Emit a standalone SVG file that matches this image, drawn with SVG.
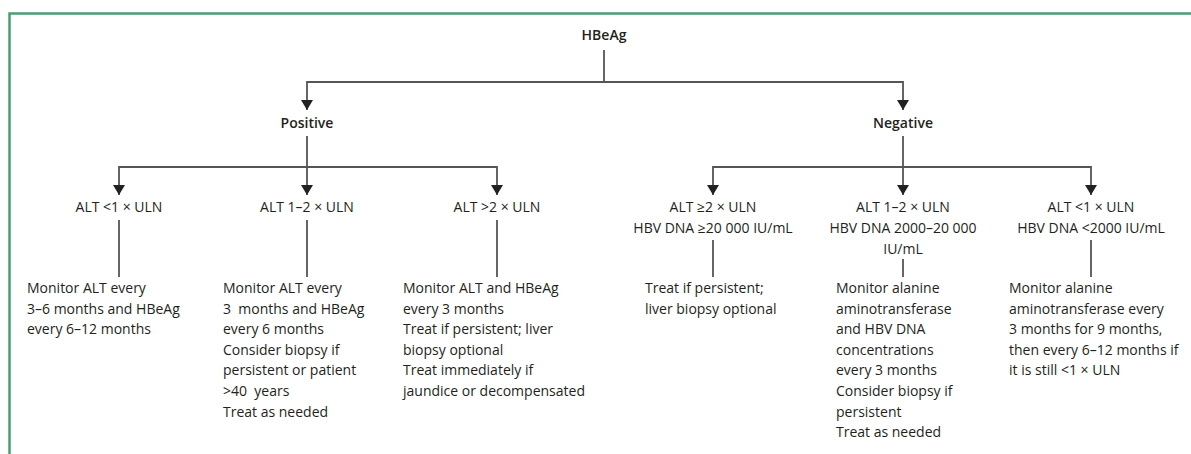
<svg xmlns="http://www.w3.org/2000/svg" width="1191" height="454" viewBox="0 0 1191 454">
<style>
text{font-family:"Open Sans","Liberation Sans",sans-serif;font-size:14px;fill:#231f20}
.h{font-weight:600;text-anchor:middle}
.c{text-anchor:middle}
.ln{fill:none;stroke:#555;stroke-width:1.8}
.ar{marker-end:url(#arr)}
</style>
<defs>
<marker id="arr" markerWidth="10" markerHeight="12" refX="10" refY="6" orient="auto" markerUnits="userSpaceOnUse">
<path d="M0,0 L10,6 L0,12 Z" fill="#222"/>
</marker>
</defs>
<rect width="1191" height="454" fill="#fff"/>
<path d="M9.5,454 V13.5 H1191" fill="none" stroke="#4a9d74" stroke-width="2.5"/>
<g id="connectors">
<path class="ln" d="M604,50 V82"/>
<path class="ln ar" d="M604,82 H307 V110"/>
<path class="ln ar" d="M604,82 H903 V110"/>
<path class="ln ar" d="M307,136 V195"/>
<path class="ln ar" d="M307,167 H119 V195"/>
<path class="ln ar" d="M307,167 H497 V195"/>
<path class="ln ar" d="M903,136 V195"/>
<path class="ln ar" d="M903,167 H713 V195"/>
<path class="ln ar" d="M903,167 H1091 V195"/>
<path class="ln" d="M119,220 V277"/>
<path class="ln" d="M307,220 V277"/>
<path class="ln" d="M497,220 V277"/>
<path class="ln" d="M713,240 V277"/>
<path class="ln" d="M903,259 V277"/>
<path class="ln" d="M1091,240 V277"/>
</g>
<g id="hbeag"><text class="h" x="604" y="40">HBeAg</text></g>
<g id="positive"><text class="h" x="307" y="128">Positive</text></g>
<g id="negative"><text class="h" x="903" y="128">Negative</text></g>
<g id="pos-alt-lt1"><text class="c" x="119" y="212">ALT &lt;1 × ULN</text></g>
<g id="pos-alt-1-2"><text class="c" x="307" y="212">ALT 1–2 × ULN</text></g>
<g id="pos-alt-gt2"><text class="c" x="497" y="212">ALT &gt;2 × ULN</text></g>
<g id="neg-alt-ge2"><text class="c" x="713" y="212">ALT ≥2 × ULN</text><text class="c" x="713" y="233">HBV DNA ≥20 000 IU/mL</text></g>
<g id="neg-alt-1-2"><text class="c" x="903" y="212">ALT 1–2 × ULN</text><text class="c" x="903" y="233">HBV DNA 2000–20 000</text><text class="c" x="903" y="254">IU/mL</text></g>
<g id="neg-alt-lt1"><text class="c" x="1091" y="212">ALT &lt;1 × ULN</text><text class="c" x="1091" y="233">HBV DNA &lt;2000 IU/mL</text></g>
<g id="action-1"><text x="27" y="293">Monitor ALT every</text><text x="27" y="313.6">3–6 months and HBeAg</text><text x="27" y="334.2">every 6–12 months</text></g>
<g id="action-2"><text x="223" y="293">Monitor ALT every</text><text x="223" y="313.6" xml:space="preserve">3  months and HBeAg</text><text x="223" y="334.2">every 6 months</text><text x="223" y="354.8">Consider biopsy if</text><text x="223" y="375.4">persistent or patient</text><text x="223" y="396" xml:space="preserve">&gt;40  years</text><text x="223" y="416.6">Treat as needed</text></g>
<g id="action-3"><text x="403" y="293">Monitor ALT and HBeAg</text><text x="403" y="313.6">every 3 months</text><text x="403" y="334.2">Treat if persistent; liver</text><text x="403" y="354.8">biopsy optional</text><text x="403" y="375.4">Treat immediately if</text><text x="403" y="396">jaundice or decompensated</text></g>
<g id="action-4"><text x="645" y="293">Treat if persistent;</text><text x="645" y="313.6">liver biopsy optional</text></g>
<g id="action-5"><text x="836" y="293">Monitor alanine</text><text x="836" y="313.6">aminotransferase</text><text x="836" y="334.2">and HBV DNA</text><text x="836" y="354.8">concentrations</text><text x="836" y="375.4">every 3 months</text><text x="836" y="396">Consider biopsy if</text><text x="836" y="416.6">persistent</text><text x="836" y="437.2">Treat as needed</text></g>
<g id="action-6"><text x="1009" y="293">Monitor alanine</text><text x="1009" y="313.6">aminotransferase every</text><text x="1009" y="334.2">3 months for 9 months,</text><text x="1009" y="354.8">then every 6–12 months if</text><text x="1009" y="375.4">it is still &lt;1 × ULN</text></g>
</svg>
